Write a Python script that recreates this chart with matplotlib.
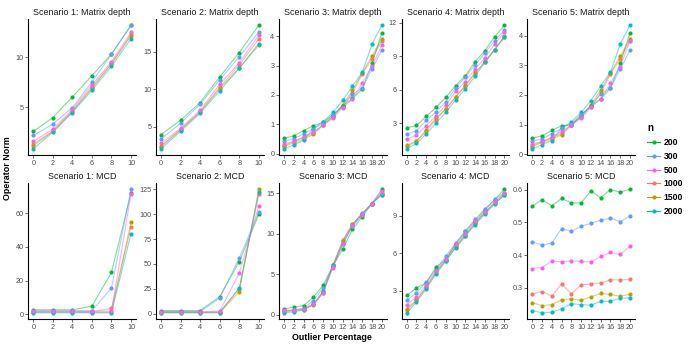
import matplotlib
matplotlib.use("Agg")
import matplotlib.pyplot as plt
from matplotlib.lines import Line2D

plt.rcParams['font.family'] = ['Liberation Sans', 'DejaVu Sans']

# n levels and their ggplot colours
n_levels = ['200', '300', '500', '1000', '1500', '2000']
n_colors = {'200': '#00BA38', '300': '#619CFF', '500': '#F564E3',
            '1000': '#F8766D', '1500': '#B79F00', '2000': '#00BFC4'}
# ggplot draws in alphabetical factor order
draw_order = ['1000', '1500', '200', '2000', '300', '500']

x_short = [0, 2, 4, 6, 8, 10]
x_long = [0, 2, 4, 6, 8, 10, 12, 14, 16, 18, 20]

titles = ['Scenario 1: Matrix depth', 'Scenario 2: Matrix depth',
          'Scenario 3: Matrix depth', 'Scenario 4: Matrix depth',
          'Scenario 5: Matrix depth',
          'Scenario 1: MCD', 'Scenario 2: MCD', 'Scenario 3: MCD',
          'Scenario 4: MCD', 'Scenario 5: MCD']

s1_depth = {
    '200':  [2.57, 3.97, 6.03, 8.17, 10.33, 13.2],
    '300':  [2.17, 3.30, 4.97, 7.53, 10.33, 13.23],
    '500':  [1.57, 2.80, 4.80, 7.23, 9.57, 12.5],
    '1000': [1.30, 2.63, 4.63, 7.00, 9.40, 12.3],
    '1500': [1.13, 2.57, 4.57, 6.90, 9.33, 12.17],
    '2000': [0.83, 2.50, 4.47, 6.70, 9.10, 11.87],
}
s2_depth = {
    '200':  [3.98, 5.88, 8.23, 11.64, 14.87, 18.5],
    '300':  [3.36, 5.49, 8.00, 11.24, 14.29, 17.6],
    '500':  [2.79, 4.82, 7.21, 10.66, 13.5, 17.17],
    '1000': [2.48, 4.69, 7.04, 10.27, 13.19, 16.68],
    '1500': [2.35, 4.60, 6.95, 10.09, 12.79, 15.84],
    '2000': [2.08, 4.42, 6.81, 9.78, 12.79, 16.06],
}
s3_depth = {
    '200':  [0.52, 0.60, 0.78, 0.95, 1.06, 1.32, 1.63, 1.88, 2.20, 3.08, 4.11],
    '300':  [0.41, 0.51, 0.67, 0.85, 1.01, 1.32, 1.60, 2.02, 2.23, 2.88, 3.53],
    '500':  [0.33, 0.41, 0.56, 0.75, 0.97, 1.20, 1.57, 1.85, 2.40, 2.97, 3.70],
    '1000': [0.27, 0.41, 0.55, 0.69, 0.97, 1.26, 1.63, 2.06, 2.72, 3.23, 3.84],
    '1500': [0.24, 0.37, 0.49, 0.65, 0.98, 1.26, 1.66, 2.16, 2.75, 3.33, 3.91],
    '2000': [0.16, 0.30, 0.45, 0.85, 1.09, 1.40, 1.81, 2.31, 2.77, 3.73, 4.38],
}
s4_depth = {
    '200':  [2.58, 2.79, 3.60, 4.41, 5.31, 6.36, 7.26, 8.52, 9.51, 10.75, 11.8],
    '300':  [2.01, 2.31, 3.24, 3.99, 4.92, 6.15, 7.11, 8.25, 9.30, 10.41, 11.35],
    '500':  [1.56, 1.92, 2.76, 3.66, 4.62, 5.85, 6.72, 7.86, 8.85, 10.1, 11.2],
    '1000': [0.99, 1.41, 2.25, 3.30, 4.29, 5.31, 6.36, 7.44, 8.55, 9.60, 10.75],
    '1500': [0.90, 1.35, 2.40, 3.45, 4.26, 5.34, 6.39, 7.56, 8.46, 9.60, 10.8],
    '2000': [0.69, 1.17, 2.04, 3.00, 3.99, 5.07, 6.09, 7.20, 8.46, 9.60, 10.72],
}
s5_depth = {
    '200':  [0.54, 0.62, 0.80, 0.96, 0.99, 1.33, 1.63, 1.87, 2.22, 3.07, 4.10],
    '300':  [0.43, 0.52, 0.68, 0.87, 1.03, 1.32, 1.61, 2.03, 2.23, 2.88, 3.52],
    '500':  [0.35, 0.42, 0.57, 0.77, 0.98, 1.22, 1.58, 1.86, 2.39, 2.96, 3.84],
    '1000': [0.29, 0.43, 0.56, 0.70, 0.98, 1.25, 1.63, 2.06, 2.71, 3.23, 3.83],
    '1500': [0.25, 0.40, 0.50, 0.66, 0.99, 1.27, 1.67, 2.17, 2.75, 3.32, 3.90],
    '2000': [0.18, 0.32, 0.46, 0.88, 1.09, 1.41, 1.81, 2.31, 2.77, 3.72, 4.36],
}
s1_mcd = {
    '200':  [2.6, 2.6, 2.6, 4.75, 24.8, 72.0],
    '300':  [2.0, 2.0, 2.0, 2.0, 15.6, 74.3],
    '500':  [1.8, 1.8, 1.8, 1.8, 1.8, 71.5],
    '1000': [1.4, 1.4, 1.4, 1.4, 3.4, 51.9],
    '1500': [1.2, 1.2, 1.2, 1.2, 1.2, 54.7],
    '2000': [0.8, 0.8, 0.8, 0.8, 0.8, 47.9],
}
s2_mcd = {
    '200':  [3.3, 3.3, 3.3, 17.3, 52.3, 99.7],
    '300':  [2.3, 2.3, 2.3, 15.7, 56.0, 102.0],
    '500':  [2.0, 2.0, 2.0, 2.7, 40.7, 108.3],
    '1000': [1.7, 1.7, 1.7, 2.0, 25.0, 120.0],
    '1500': [1.3, 1.3, 1.3, 1.3, 22.0, 125.0],
    '2000': [1.0, 1.0, 1.0, 1.0, 26.0, 122.0],
}
s3_mcd = {
    '200':  [0.74, 0.95, 1.15, 2.18, 3.67, 6.10, 8.12, 10.55, 12.15, 13.76, 15.53],
    '300':  [0.45, 0.58, 0.78, 1.77, 3.34, 6.06, 8.90, 11.08, 12.48, 13.76, 15.08],
    '500':  [0.54, 0.62, 0.78, 1.28, 2.76, 5.81, 8.78, 10.96, 12.40, 13.76, 15.29],
    '1000': [0.49, 0.58, 0.70, 1.28, 2.80, 6.14, 9.19, 11.25, 12.57, 13.80, 14.96],
    '1500': [0.41, 0.49, 0.66, 1.24, 2.76, 6.14, 9.11, 11.17, 12.48, 13.76, 14.80],
    '2000': [0.25, 0.37, 0.62, 1.28, 3.00, 6.00, 8.70, 11.04, 12.48, 13.76, 14.87],
}
s4_mcd = {
    '200':  [2.60, 3.21, 3.61, 4.89, 5.48, 6.73, 7.75, 8.60, 9.48, 10.28, 11.13],
    '300':  [2.23, 2.79, 3.69, 4.68, 5.75, 6.81, 7.75, 8.73, 9.53, 10.31, 10.84],
    '500':  [1.85, 2.47, 3.48, 4.55, 5.56, 6.73, 7.53, 8.55, 9.27, 10.07, 10.81],
    '1000': [1.53, 2.28, 3.27, 4.49, 5.48, 6.55, 7.48, 8.41, 9.29, 10.09, 10.73],
    '1500': [1.40, 2.20, 3.27, 4.41, 5.40, 6.47, 7.40, 8.39, 9.21, 10.01, 10.68],
    '2000': [1.21, 2.07, 3.13, 4.33, 5.35, 6.41, 7.35, 8.28, 9.13, 9.96, 10.63],
}
s5_mcd = {
    '200':  [0.549, 0.569, 0.550, 0.573, 0.559, 0.559, 0.596, 0.575, 0.600, 0.592, 0.601],
    '300':  [0.441, 0.430, 0.437, 0.481, 0.472, 0.488, 0.497, 0.506, 0.513, 0.502, 0.519],
    '500':  [0.359, 0.362, 0.382, 0.380, 0.382, 0.381, 0.379, 0.396, 0.408, 0.402, 0.427],
    '1000': [0.281, 0.289, 0.275, 0.312, 0.282, 0.309, 0.312, 0.315, 0.325, 0.324, 0.326],
    '1500': [0.255, 0.246, 0.249, 0.264, 0.267, 0.262, 0.273, 0.283, 0.280, 0.274, 0.281],
    '2000': [0.231, 0.224, 0.226, 0.236, 0.252, 0.249, 0.247, 0.259, 0.259, 0.269, 0.269],
}

panels = [s1_depth, s2_depth, s3_depth, s4_depth, s5_depth,
          s1_mcd, s2_mcd, s3_mcd, s4_mcd, s5_mcd]
xs = [x_short, x_short, x_long, x_long, x_long,
      x_short, x_short, x_long, x_long, x_long]
yticks = [[5, 10], [5, 10, 15], [0, 1, 2, 3, 4], [3, 6, 9, 12], [0, 1, 2, 3, 4],
          [0, 20, 40, 60], [0, 25, 50, 75, 100, 125], [0, 5, 10, 15],
          [3, 6, 9], [0.3, 0.4, 0.5, 0.6]]

W, H = 692, 346
fig = plt.figure(figsize=(W / 100, H / 100), dpi=100)

lefts = [28.4, 156.2, 279.2, 401.8, 527.4]
aw = 107.5
tops = [19, 183]
ah = 136

for i, data in enumerate(panels):
    row, col = divmod(i, 5)
    ax = fig.add_axes([lefts[col] / W, 1 - (tops[row] + ah) / H, aw / W, ah / H])
    x = xs[i]
    for n in draw_order:
        c = n_colors[n]
        ax.plot(x, data[n], color=c, lw=0.8, alpha=0.5, zorder=2)
        ax.plot(x, data[n], 'o', color=c, ms=3.0, mec='none', zorder=3)
    ax.margins(x=0.05, y=0.05)
    ax.set_xticks(x)
    ax.set_yticks(yticks[i])
    ax.set_title(titles[i], fontsize=6.4, color='#1a1a1a', pad=3)
    for s in ['top', 'right']:
        ax.spines[s].set_visible(False)
    for s in ['left', 'bottom']:
        ax.spines[s].set_linewidth(0.8)
        ax.spines[s].set_color('black')
    ax.tick_params(labelsize=5.2, labelcolor='#4D4D4D', color='#333333',
                   length=2, width=0.5, pad=1.5)

fig.text(331.7 / W, 1 - 337 / H, 'Outlier Percentage', ha='center', va='center',
         fontsize=6.4, fontweight='bold')
fig.text(8 / W, 1 - 168 / H, 'Operator Norm', ha='center', va='center',
         rotation=90, fontsize=6.4, fontweight='bold')

handles = [Line2D([], [], color=n_colors[n], lw=0.8, marker='o', ms=3.0,
                  mec='none') for n in n_levels]
leg = fig.legend(handles, n_levels, loc='upper left',
                 bbox_to_anchor=(644 / W, 1 - 120 / H), frameon=False,
                 title='n', title_fontproperties={'weight': 'bold', 'size': 7},
                 prop={'weight': 'bold', 'size': 6.2}, handlelength=1.5,
                 handletextpad=0.4, labelspacing=0.55, borderaxespad=0)
leg._legend_box.align = 'left'

fig.savefig('out.png', dpi=100)
